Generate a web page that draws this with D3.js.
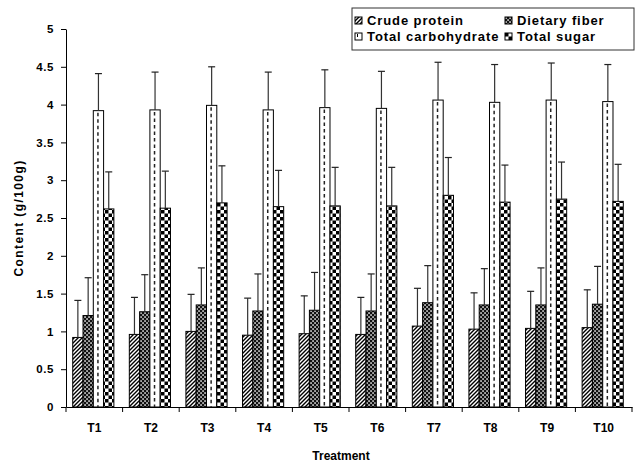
<!DOCTYPE html>
<html>
<head>
<meta charset="utf-8">
<script src="https://d3js.org/d3.v7.min.js"></script>
<style>
  body { margin: 0; background: #fff; }
  svg text { font-family: "Liberation Sans", Arial, sans-serif; font-weight: bold; fill: #000; }
</style>
</head>
<body>
<svg width="635" height="463"></svg>
<script>
// chart data
var categories = ["T1","T2","T3","T4","T5","T6","T7","T8","T9","T10"];
var seriesNames = ["Crude protein","Dietary fiber","Total carbohydrate","Total sugar"];

var crudeProtein      = [0.92, 0.96, 1.00, 0.95, 0.97, 0.96, 1.07, 1.03, 1.04, 1.05];
var crudeProteinErr   = [0.49, 0.49, 0.49, 0.49, 0.50, 0.49, 0.50, 0.48, 0.49, 0.50];
var dietaryFiber      = [1.21, 1.26, 1.35, 1.27, 1.28, 1.27, 1.38, 1.35, 1.35, 1.36];
var dietaryFiberErr   = [0.50, 0.49, 0.49, 0.49, 0.50, 0.49, 0.49, 0.48, 0.49, 0.50];
var totalCarb         = [3.92, 3.93, 3.99, 3.93, 3.96, 3.95, 4.06, 4.03, 4.06, 4.04];
var totalCarbErr      = [0.49, 0.50, 0.51, 0.50, 0.50, 0.49, 0.50, 0.50, 0.49, 0.49];
var totalSugar        = [2.62, 2.63, 2.70, 2.65, 2.66, 2.66, 2.80, 2.71, 2.75, 2.72];
var totalSugarErr     = [0.49, 0.49, 0.49, 0.48, 0.51, 0.51, 0.50, 0.49, 0.49, 0.49];

var yTicks = [0, 0.5, 1, 1.5, 2, 2.5, 3, 3.5, 4, 4.5, 5];

var seriesValues = [crudeProtein, dietaryFiber, totalCarb, totalSugar];
var seriesErrors = [crudeProteinErr, dietaryFiberErr, totalCarbErr, totalSugarErr];
var seriesFill   = ["url(#pat-cp)", "url(#pat-df)", "#fff", "url(#pat-ts)"];

var svg = d3.select("svg");
var plot = {left: 66, right: 632, top: 29, bottom: 407};

// patterns
var defs = svg.append("defs");

var pCp = defs.append("pattern").attr("id", "pat-cp")
    .attr("patternUnits", "userSpaceOnUse").attr("width", 4).attr("height", 4);
pCp.append("rect").attr("width", 4).attr("height", 4).attr("fill", "#fff");
pCp.append("path").attr("d", "M-1,1 l2,-2 M0,4 l4,-4 M3,5 l2,-2")
    .attr("stroke", "#000").attr("stroke-width", 1.4);

var pDf = defs.append("pattern").attr("id", "pat-df")
    .attr("patternUnits", "userSpaceOnUse").attr("width", 4).attr("height", 4);
pDf.append("rect").attr("width", 4).attr("height", 4).attr("fill", "#111");
pDf.append("rect").attr("x", 0.3).attr("y", 0.3).attr("width", 1.5).attr("height", 1.5).attr("fill", "#fff");
pDf.append("rect").attr("x", 2.3).attr("y", 2.3).attr("width", 1.5).attr("height", 1.5).attr("fill", "#fff");

var pTs = defs.append("pattern").attr("id", "pat-ts")
    .attr("patternUnits", "userSpaceOnUse").attr("width", 7).attr("height", 7);
pTs.append("rect").attr("width", 7).attr("height", 7).attr("fill", "#fff");
pTs.append("rect").attr("width", 3.5).attr("height", 3.5).attr("fill", "#000");
pTs.append("rect").attr("x", 3.5).attr("y", 3.5).attr("width", 3.5).attr("height", 3.5).attr("fill", "#000");

// scales
var x0 = d3.scaleBand().domain(categories).range([plot.left, plot.right]);
var bw = x0.bandwidth();
var gap = bw * 1.5 / 5.5;  // excel style 150% gap
var x1 = d3.scaleBand().domain(seriesNames).range([gap / 2 - 1, bw - gap / 2 - 1]);
var y = d3.scaleLinear().domain([0, 5]).range([plot.bottom, plot.top]);

// bars
var rows = [];
seriesNames.forEach(function(s, si) {
  categories.forEach(function(c, ci) {
    rows.push({s: s, si: si, c: c, v: seriesValues[si][ci], e: seriesErrors[si][ci]});
  });
});

var bars = svg.append("g").selectAll("g").data(rows).enter().append("g");

bars.append("rect")
    .attr("x", function(d) { return x0(d.c) + x1(d.s); })
    .attr("y", function(d) { return y(d.v); })
    .attr("width", x1.bandwidth())
    .attr("height", function(d) { return y(0) - y(d.v); })
    .attr("fill", function(d) { return seriesFill[d.si]; })
    .attr("stroke", "#000")
    .attr("stroke-width", 1);

// dashed centre line of the carbohydrate bars
bars.filter(function(d) { return d.si == 2; }).append("line")
    .attr("x1", function(d) { return x0(d.c) + x1(d.s) + x1.bandwidth() * 0.45; })
    .attr("x2", function(d) { return x0(d.c) + x1(d.s) + x1.bandwidth() * 0.45; })
    .attr("y1", function(d) { return y(d.v) + 2; })
    .attr("y2", y(0))
    .attr("stroke", "#222")
    .attr("stroke-width", 1.5)
    .attr("stroke-dasharray", "3.5,3");

// error bars (upper only)
var ex = function(d) { return x0(d.c) + x1(d.s) + x1.bandwidth() / 2; };
bars.append("line")
    .attr("x1", ex).attr("x2", ex)
    .attr("y1", function(d) { return y(d.v); })
    .attr("y2", function(d) { return y(d.v + d.e); })
    .attr("stroke", "#333").attr("stroke-width", 1.2);
bars.append("line")
    .attr("x1", function(d) { return ex(d) - 3.5; })
    .attr("x2", function(d) { return ex(d) + 3.5; })
    .attr("y1", function(d) { return y(d.v + d.e); })
    .attr("y2", function(d) { return y(d.v + d.e); })
    .attr("stroke", "#222").attr("stroke-width", 1.2);

// axes
var yAxis = d3.axisLeft(y).tickValues(yTicks).tickFormat(function(d) { return d; })
    .tickSize(5).tickSizeOuter(0).tickPadding(7);
var gY = svg.append("g")
    .attr("transform", "translate(" + plot.left + ",0)")
    .call(yAxis);
gY.selectAll("text").style("font-size", "11.5px").style("letter-spacing", "0.6px");

var xAxis = d3.axisBottom(x0).tickSize(0).tickSizeOuter(0).tickPadding(16.5);
var gX = svg.append("g")
    .attr("transform", "translate(0," + plot.bottom + ")")
    .call(xAxis);
gX.selectAll("text").style("font-size", "12px");
gX.selectAll(".edge").data(categories.concat(["end"])).enter().append("line")
    .attr("class", "edge")
    .attr("x1", function(d) { return d == "end" ? plot.right : x0(d); })
    .attr("x2", function(d) { return d == "end" ? plot.right : x0(d); })
    .attr("y1", 0).attr("y2", 5)
    .attr("stroke", "#000");

svg.selectAll(".domain, .tick line").attr("stroke", "#000");

// axis titles
svg.append("text")
    .attr("transform", "translate(23," + ((plot.top + plot.bottom) / 2) + ") rotate(-90)")
    .attr("text-anchor", "middle")
    .style("font-size", "12px")
    .style("letter-spacing", "1.4px")
    .text("Content (g/100g)");

svg.append("text")
    .attr("x", 341).attr("y", 460)
    .attr("text-anchor", "middle")
    .style("font-size", "12px")
    .text("Treatment");

// legend
var legend = svg.append("g");
legend.append("rect")
    .attr("x", 352).attr("y", 8).attr("width", 282).attr("height", 42)
    .attr("fill", "#fff").attr("stroke", "#333").attr("stroke-width", 1);

var legPos = [[355, 17], [505, 17], [355, 33], [505, 33]];
var items = legend.selectAll(".item").data(seriesNames).enter().append("g")
    .attr("class", "item")
    .attr("transform", function(d, i) { return "translate(" + legPos[i][0] + "," + legPos[i][1] + ")"; });
items.append("rect")
    .attr("width", 7).attr("height", 7)
    .attr("fill", function(d, i) { return seriesFill[i]; })
    .attr("stroke", "#000");
items.filter(function(d, i) { return i == 2; }).append("line")
    .attr("x1", 2.5).attr("x2", 2.5).attr("y1", 1).attr("y2", 4)
    .attr("stroke", "#000");
items.append("text")
    .attr("x", 12).attr("y", 7.5)
    .style("font-size", "13px")
    .style("letter-spacing", "0.9px")
    .text(function(d) { return d; });
</script>
</body>
</html>
